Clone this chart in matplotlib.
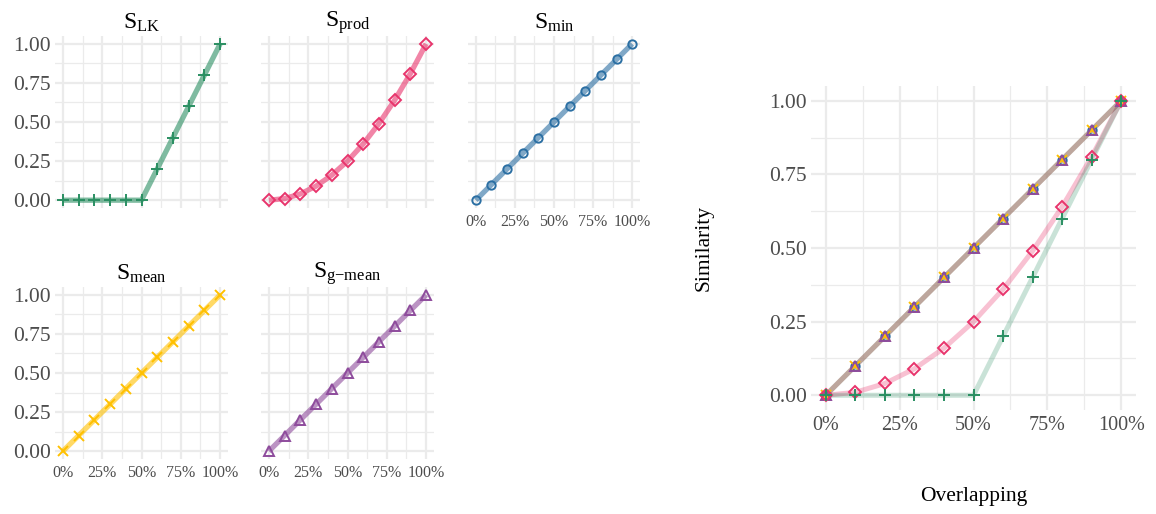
import matplotlib
matplotlib.use('Agg')
import matplotlib.pyplot as plt
from matplotlib.ticker import FixedLocator, FuncFormatter

plt.rcParams['font.family'] = ['Liberation Serif', 'DejaVu Serif']
plt.rcParams['mathtext.fontset'] = 'custom'
plt.rcParams['mathtext.rm'] = 'Liberation Serif'
plt.rcParams['mathtext.it'] = 'Liberation Serif:italic'

# ── data ────────────────────────────────────────────
overlap = [0.0, 0.1, 0.2, 0.3, 0.4, 0.5, 0.6, 0.7, 0.8, 0.9, 1.0]
s_lk = [0.0, 0.0, 0.0, 0.0, 0.0, 0.0, 0.2, 0.4, 0.6, 0.8, 1.0]
s_prod = [0.0, 0.01, 0.04, 0.09, 0.16, 0.25, 0.36, 0.49, 0.64, 0.81, 1.0]
s_min = [0.0, 0.1, 0.2, 0.3, 0.4, 0.5, 0.6, 0.7, 0.8, 0.9, 1.0]
s_mean = [0.0, 0.1, 0.2, 0.3, 0.4, 0.5, 0.6, 0.7, 0.8, 0.9, 1.0]
s_gmean = [0.0, 0.1, 0.2, 0.3, 0.4, 0.5, 0.6, 0.7, 0.8, 0.9, 1.0]

titles = [r'$\mathrm{S_{LK}}$', r'$\mathrm{S_{prod}}$', r'$\mathrm{S_{min}}$',
          r'$\mathrm{S_{mean}}$', '$\\mathrm{S}_{\\text{g\u2212mean}}$']
series = [s_lk, s_prod, s_min, s_mean, s_gmean]
colors = ['#2A8F62', '#E8346C', '#2B6FA3', '#FFC000', '#8E4C9C']
markers = ['+', 'D', 'o', 'x', '^']
msizes = [9, 6, 6, 7, 7]

major = [0, 0.25, 0.5, 0.75, 1.0]
minor = [0.125, 0.375, 0.625, 0.875]
W, H = 1156, 514
GRID = '#EBEBEB'
TICKC = '#4D4D4D'


def px_axes(fig, x0, y0, x1, y1):
    return fig.add_axes([x0 / W, 1 - y1 / H, (x1 - x0) / W, (y1 - y0) / H])


def style(ax, show_x, show_y, xsize, ysize):
    ax.set_xlim(-0.05, 1.05)
    ax.set_ylim(-0.05, 1.05)
    ax.xaxis.set_major_locator(FixedLocator(major))
    ax.yaxis.set_major_locator(FixedLocator(major))
    ax.xaxis.set_minor_locator(FixedLocator(minor))
    ax.yaxis.set_minor_locator(FixedLocator(minor))
    ax.xaxis.set_major_formatter(FuncFormatter(lambda v, p: f'{v * 100:.0f}%'))
    ax.yaxis.set_major_formatter(FuncFormatter(lambda v, p: f'{v:.2f}'))
    ax.grid(which='major', color=GRID, lw=1.6)
    ax.grid(which='minor', color=GRID, lw=0.9)
    ax.set_axisbelow(True)
    for s in ax.spines.values():
        s.set_visible(False)
    ax.tick_params(which='both', length=0, colors=TICKC)
    ax.tick_params(axis='x', labelsize=xsize, pad=4, labelbottom=show_x)
    ax.tick_params(axis='y', labelsize=ysize, pad=3, labelleft=show_y)


fig = plt.figure(figsize=(W / 100, H / 100), dpi=100)

# facet panels
cols = [(55, 228), (261, 434), (468, 640)]
rows = [(36, 208), (287, 459)]
slots = [(0, 0), (0, 1), (0, 2), (1, 0), (1, 1)]
for i, (r, c) in enumerate(slots):
    x0, x1 = cols[c]
    y0, y1 = rows[r]
    ax = px_axes(fig, x0, y0, x1, y1)
    style(ax, show_x=(r == 1 or c == 2), show_y=(c == 0), xsize=11.5, ysize=15.5)
    ax.plot(overlap, series[i], color=colors[i], lw=3.8, alpha=0.6,
            solid_capstyle='butt', zorder=2)
    ax.plot(overlap, series[i], ls='none', marker=markers[i], ms=msizes[i],
            mfc='none', mec=colors[i], mew=1.4, zorder=3)
    ax.set_title(titles[i], fontsize=17, pad=5)

# combined panel
ax = px_axes(fig, 811, 86, 1136, 410)
style(ax, show_x=True, show_y=True, xsize=14.5, ysize=15.5)
line_order = [2, 3, 4, 1, 0]
line_alpha = {0: 0.25, 1: 0.3, 2: 0.3, 3: 0.3, 4: 0.3}
for i in line_order:
    ax.plot(overlap, series[i], color=colors[i], lw=3.6, alpha=line_alpha[i],
            solid_capstyle='butt', zorder=2)
for i in line_order:
    ax.plot(overlap, series[i], ls='none', marker=markers[i], ms=msizes[i],
            mfc='none', mec=colors[i], mew=1.4, zorder=3)
ax.set_xlabel('Overlapping', fontsize=15.5, labelpad=38)
ax.set_ylabel('Similarity', fontsize=15.5, labelpad=40)

fig.savefig('out.png', dpi=100)
